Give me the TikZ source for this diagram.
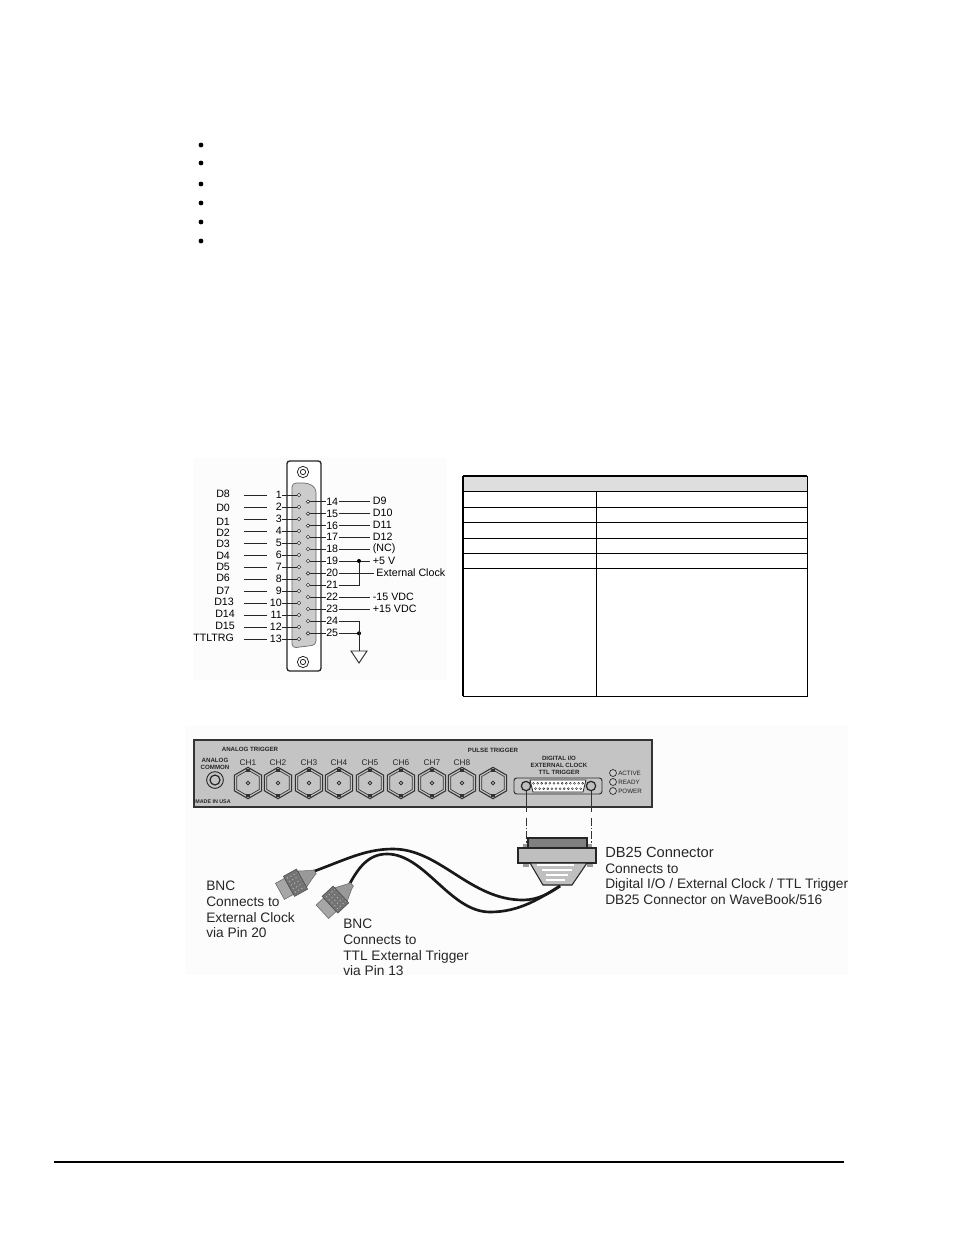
\documentclass[tikz,border=0pt]{standalone}
\usepackage{fontspec}
\setmainfont{Liberation Sans}
\usetikzlibrary{shapes.geometric}

\begin{document}
\begin{tikzpicture}[
x=0.75pt,y=-0.75pt,
bullet/.style={
  circle,
  fill=black,
  inner sep=0pt,
  minimum size=3.6pt
  },
pin/.style={
  circle,
  draw=black!80,
  fill=white,
  line width=0.5pt,
  inner sep=0pt,
  minimum size=2.6pt
  },
dot/.style={
  circle,
  fill=black,
  inner sep=0pt,
  minimum size=3pt
  },
numl/.style={
  inner sep=0pt,
  text width=10.5pt,
  align=right,
  anchor=east,
  font=\fontsize{8}{9}\selectfont
  },
numr/.style={
  inner sep=0pt,
  text width=9pt,
  align=left,
  anchor=west,
  font=\fontsize{8}{9}\selectfont
  },
sig/.style={
  inner ysep=0pt,
  inner xsep=2pt,
  font=\fontsize{8}{9}\selectfont
  },
wire/.style={
  draw=black!85,
  line width=0.7pt
  },
bnc/.style={
  regular polygon,
  regular polygon sides=6,
  shape border rotate=30,
  draw=black!80,
  line width=0.8pt,
  inner sep=0pt
  },
ptext/.style={
  inner sep=0pt,
  text=black!85,
  font=\fontsize{4.6}{5.4}\selectfont\bfseries
  },
chtext/.style={
  inner sep=0pt,
  text=black!85,
  font=\fontsize{6.2}{7}\selectfont
  },
ledtext/.style={
  inner sep=0pt,
  anchor=west,
  text=black!85,
  font=\fontsize{4.7}{5.4}\selectfont
  },
led/.style={
  circle,
  draw=black!85,
  fill=black!20,
  line width=0.5pt,
  inner sep=0pt,
  minimum size=5.2pt
  },
note/.style={
  inner sep=0pt,
  anchor=base west,
  text=black!85,
  font=\fontsize{10.3}{11}\selectfont
  },
cable/.style={
  draw=black!90,
  line width=2pt
  }
]
\useasboundingbox (0,0) rectangle (954,1235);

\foreach \by [count=\bi] in {145,163,184,203,222,241}
  \node[bullet] (b\bi) at (201,\by) {};
\draw[line width=1.4pt] (54,1162) -- (844,1162);

% pinout
\fill[black!1] (193,458) rectangle (447,680);
\fill[black!1] (185,725) rectangle (848,975);
\draw[draw=black!85,fill=white,line width=1pt,rounded corners=2pt] (287,461) rectangle (321,671);
\draw[draw=black!60,fill=black!20,line width=0.5pt,rounded corners=3pt]
  (292,483) -- (308,483) -- (316,488) -- (316,645) -- (292,648) -- cycle;
\foreach \sy [count=\si] in {472,662}
{
  \node[circle,draw=black!85,inner sep=0pt,minimum size=8.5pt,line width=0.6pt] (sc\si) at (303,\sy) {};
  \node[circle,draw=black!85,inner sep=0pt,minimum size=4pt,line width=0.6pt] (st\si) at (303,\sy) {};
}

\foreach \lab/\lx/\ly [count=\mi] in {D8/216/494.3,D0/216/507.7,D1/216/521.7,D2/216/532.3,D3/216/544.3,
    D4/216/555.7,D5/216/567.3,D6/216/578.3,D7/216/591,D13/214/602.3,D14/215/614.3,D15/215/626.3,TTLTRG/193/638.3}
{
  \pgfmathsetmacro{\py}{495+12*(\mi-1)}
  \node[pin] (p\mi) at (299,\py) {};
  \node[numl] (n\mi) at (282,\py) {\mi};
  \node[sig,anchor=west,inner xsep=0pt] (l\mi) at (\lx,\ly) {\lab};
  \coordinate (a\mi) at (244,\py);
  \draw[wire] (a\mi) -- (n\mi.west);
  \draw[wire] (n\mi.east) -- (p\mi);
}

\foreach \ai [count=\mi from 14] in {501.7,513.7,525.7,537,549,561,573.3,585,597,609,621,633.3}
{
  \node[pin] (p\mi) at (308,\ai) {};
  \node[numr] (n\mi) at (326,\ai) {\mi};
  \draw[wire] (p\mi) -- (n\mi.west);
}
\foreach \mi/\lab/\ly in {14/D9/501,15/D10/512.7,16/D11/525,17/D12/537,18/(NC)/548.3,19/+5 V/561,22/-15 VDC/596.7,23/+15 VDC/609}
{
  \node[sig,anchor=west] (l\mi) at (370,\ly) {\lab};
  \draw[wire] (n\mi.east) -- (n\mi.east -| l\mi.west);
}
\node[sig,anchor=west] (l20) at (373.5,572.3) {External Clock};
\draw[wire] (n20.east) -- (n20.east -| l20.west);

\node[dot] (j19) at (359,561) {};
\coordinate (c21) at (359,585);
\draw[wire] (n21.east) -- (c21) -- (j19);
\node[dot] (j25) at (359,633.3) {};
\coordinate (c24) at (359,621);
\coordinate (g) at (359,651);
\draw[wire] (n24.east) -- (c24) -- (g);
\draw[wire] (n25.east) -- (j25);
\draw[wire] (g) -- ++(-8,0) -- (359,663) -- (367,651) -- (g);

% table
\fill[black!13] (463,476) rectangle (807,491);
\draw[line width=0.75pt] (463,476) rectangle (807,696);
\draw[line width=1.4pt] (463,476) -- (463,696);
\draw[line width=0.9pt] (463,476) -- (807,476);
\foreach \ty in {491,507,522,538,553,568}
  \draw[line width=0.75pt] (463,\ty) -- (807,\ty);
\draw[line width=0.75pt] (596,491) -- (596,696);

% panel
\draw[draw=black!80,fill=black!23,line width=0.9pt] (194,740) rectangle (652,807);
\node[ptext] (atrig) at (250,749.5) {ANALOG TRIGGER};
\node[ptext] (ptrig) at (493,750) {PULSE TRIGGER};
\node[ptext,align=center] (acom) at (215,763.5) {ANALOG\\COMMON};
\node[ptext,font=\fontsize{4}{5}\selectfont\bfseries] (made) at (213,802) {MADE IN USA};
\node[circle,draw=black!85,inner sep=0pt,minimum size=12.5pt,line width=0.7pt] (ac1) at (215,780) {};
\node[circle,draw=black!85,inner sep=0pt,minimum size=7.5pt,line width=0.9pt] (ac2) at (215,780) {};

\foreach \ai [count=\mi] in {248,278,309,339,370,401,432,462,493}
{
  \node[bnc,minimum size=23.5pt] (co\mi) at (\ai,783) {};
  \node[bnc,minimum size=19.5pt,line width=0.5pt] (ci\mi) at (\ai,783) {};
  \fill[black!80] (\ai-2,769) rectangle (\ai+2,772);
  \fill[black!80] (\ai-2,794) rectangle (\ai+2,797);
  \node[circle,draw=black!85,fill=white,inner sep=0pt,minimum size=2.6pt,line width=0.6pt] (cc\mi) at (\ai,783) {};
  \ifnum\mi<9
    \node[chtext] (ch\mi) at (\ai,763) {CH\mi};
  \fi
}

\node[ptext,align=center] (dio) at (559,765) {DIGITAL I/O\\EXTERNAL CLOCK\\TTL TRIGGER};
\draw[draw=black!85,fill=black!23,line width=0.7pt,rounded corners=2pt] (514,778) rectangle (602,794);
\draw[draw=black!85,fill=white,line width=0.6pt] (530,780) -- (586,780) -- (583,792) -- (533,792) -- cycle;
\foreach \ii in {0,...,12}
  \node[circle,draw=black!85,inner sep=0pt,minimum size=1.5pt,line width=0.3pt] (da\ii) at (533.5+4.1*\ii,783.3) {};
\foreach \ii in {0,...,11}
  \node[circle,draw=black!85,inner sep=0pt,minimum size=1.5pt,line width=0.3pt] (db\ii) at (535.5+4.1*\ii,788.7) {};
\foreach \ai/\sname in {526/sl,591/sr}
{
  \node[circle,draw=black!85,fill=black!25,inner sep=0pt,minimum size=7pt,line width=0.9pt] (\sname) at (\ai,786) {};
  \coordinate (\sname t) at (\ai,812);
  \coordinate (\sname u) at (\ai,818);
  \coordinate (\sname v) at (\ai,843);
  \draw[line width=0.6pt,black!80] (\sname) -- (\sname t);
  \draw[line width=0.6pt,black!80,dash pattern=on 6pt off 1.5pt on 1pt off 1.5pt] (\sname u) -- (\sname v);
}
\foreach \ly/\lab [count=\mi] in {773/ACTIVE,782/READY,791/POWER}
{
  \node[led] (led\mi) at (613,\ly) {};
  \node[ledtext] (lt\mi) at (618,\ly) {\lab};
}

% db25 plug
\draw[draw=black!85,fill=black!50,line width=0.8pt] (528,838) rectangle (587,848);
\fill[black!40] (523,844) rectangle (527,848);
\fill[black!40] (588,844) rectangle (592,848);
\fill[black!40] (523,863) rectangle (529,867);
\fill[black!40] (587,863) rectangle (593,867);
\draw[draw=black!85,fill=black!25,line width=0.9pt] (518,848) rectangle (596,863);
\draw[draw=black!85,fill=black!25,line width=0.8pt] (530,863) -- (587,863) -- (572,885) -- (543,885) -- cycle;
\foreach \sy/\sa/\sb in {865/537/574,870/542/572,875/546/568,880/546/565}
  \draw[white,line width=1pt] (\sa,\sy) -- (\sb,\sy);

% cables
\coordinate (cb) at (560,886);
\coordinate (ce1) at (312,872);
\coordinate (ce2) at (348,887);
\draw[cable] (ce1) .. controls (345,860) and (365,849) .. (393,849)
  .. controls (440,849) and (470,900) .. (523,900) .. controls (538,900) and (550,893) .. (cb);
\draw[cable] (ce2) .. controls (358,868) and (368,854) .. (387,854)
  .. controls (425,854) and (450,912) .. (490,912) .. controls (520,912) and (540,898) .. (cb);

\foreach \px/\py/\ang/\pn in {295/883/29/pa,335/900/43/pb}
{
\begin{scope}[shift={(\px,\py)},rotate=\ang,scale=1.15]
  \draw[draw=black!60,fill=black!40,line width=0.4pt] (7,-8) -- (17,-3) -- (20,-2) -- (20,2) -- (17,3) -- (7,8) -- cycle;
  \draw[draw=black!60,fill=black!35,line width=0.4pt] (-15,-8) rectangle (-6,8);
  \draw[draw=black!70,fill=black!55,line width=0.4pt] (-6,-10) rectangle (7,10);
  \foreach \hh in {-7,-3.5,0,3.5,7}
    \draw[black!30,line width=0.8pt,dotted] (-4,\hh) -- (6,\hh);
\end{scope}
}

% labels
\node[note,font=\fontsize{11}{12}\selectfont] (n1a) at (605,857.5) {DB25 Connector};
\node[note] (n1b) at (605,873.5) {Connects to};
\node[note] (n1c) at (605,888.5) {Digital I/O / External Clock / TTL Trigger};
\node[note] (n1d) at (605,904.5) {DB25 Connector on WaveBook/516};
\node[note] (n2a) at (206,890.5) {BNC};
\node[note] (n2b) at (206,906.5) {Connects to};
\node[note] (n2c) at (206,922.5) {External Clock};
\node[note] (n2d) at (206,937.5) {via Pin 20};
\node[note] (n3a) at (343,928.5) {BNC};
\node[note] (n3b) at (343,944.5) {Connects to};
\node[note] (n3c) at (343,960.5) {TTL External Trigger};
\node[note] (n3d) at (343,975.5) {via Pin 13};
\end{tikzpicture}
\end{document}
